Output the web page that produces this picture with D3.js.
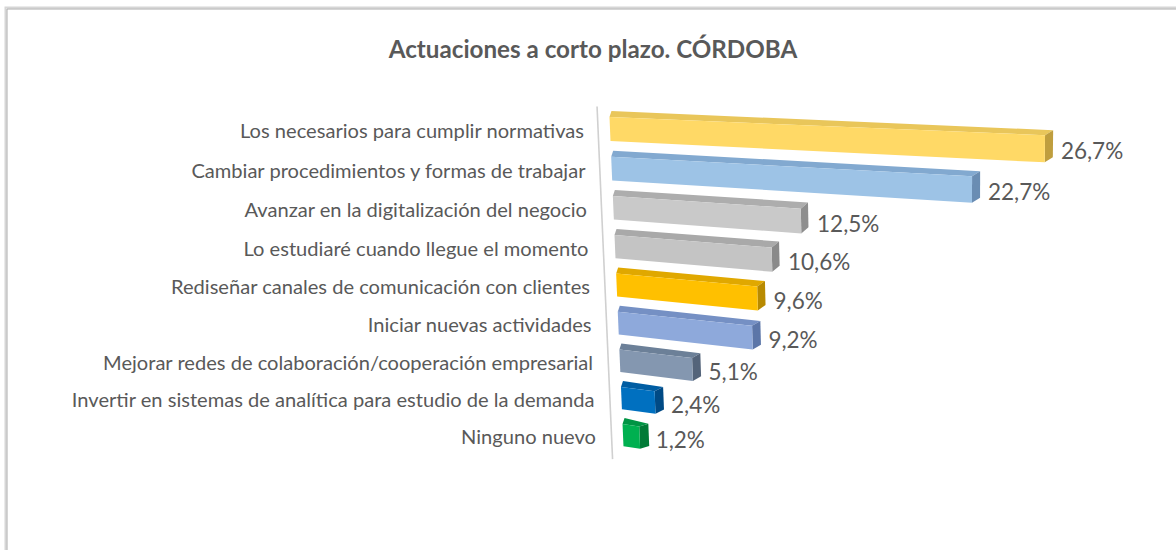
<!DOCTYPE html>
<html><head><meta charset="utf-8">
<script src="https://cdn.jsdelivr.net/npm/d3@7"></script>
<style>body{margin:0;background:#fff;} svg{display:block;}</style>
</head><body>
<svg id="chart" width="1176" height="550"></svg>
<script>
// ---- data ----
const chartTitle = "Actuaciones a corto plazo. CÓRDOBA";
const categories = [
  "Los necesarios para cumplir normativas",
  "Cambiar procedimientos y formas de trabajar",
  "Avanzar en la digitalización del negocio",
  "Lo estudiaré cuando llegue el momento",
  "Rediseñar canales de comunicación con clientes",
  "Iniciar nuevas actividades",
  "Mejorar redes de colaboración/cooperación empresarial",
  "Invertir en sistemas de analítica para estudio de la demanda",
  "Ninguno nuevo"
];
const values = [26.7, 22.7, 12.5, 10.6, 9.6, 9.2, 5.1, 2.4, 1.2];
const frontColors = ["#FFD966","#9DC3E6","#C9C9C9","#C4C4C4","#FFC000","#8EA9DB","#8497B0","#0070C0","#00B050"];
const topColors   = ["#E9C65A","#82A9D0","#ADADAD","#A9A9A9","#E0A800","#7590C4","#6C8098","#005DA3","#009444"];
const sideColors  = ["#BF9E3E","#6A8DB3","#8E8E8E","#8A8A8A","#B88A00","#5C76A8","#54647A","#004A85","#007A36"];

// ---- layout ----
const svg = d3.select("#chart");
const fmt = d3.formatLocale({decimal: ",", thousands: ".", grouping: [3], currency: ["", "€"]}).format(".1f");

const pxPerUnit = 14.25;
const x = d3.scaleLinear().domain([0, 30]).range([0, 30 * pxPerUnit]);
const rowStep = 39.8;
const barFrac = 0.40;
const y = d3.scaleBand().domain(categories)
  .range([-rowStep / 2, categories.length * rowStep - rowStep / 2])
  .paddingInner(barFrac).paddingOuter(barFrac / 2);

// perspective projection of the front plane (two vanishing points)
const O = [610, 129], V1 = [-2496, -12], V2 = [950, 8128];
const k1 = -0.0046 / pxPerUnit, k2 = 1 / 8000;
function project(X, Y) {
  const w = 1 + k1 * X + k2 * Y;
  return [
    (k1 * X * V1[0] + k2 * Y * V2[0] + O[0]) / w,
    (k1 * X * V1[1] + k2 * Y * V2[1] + O[1]) / w
  ];
}
// depth offsets: near-vertical at the axis end, radiating from a centre at the value end
const depthLeft = [2, -6];
const depthCentre = [507, 477], depthLen = 9.5;
function depthAt(p) {
  const dx = p[0] - depthCentre[0], dy = p[1] - depthCentre[1];
  const n = Math.hypot(dx, dy);
  return [dx / n * depthLen, dy / n * depthLen];
}
const add = (p, d) => [p[0] + d[0], p[1] + d[1]];
const poly = pts => "M" + pts.map(p => p[0].toFixed(2) + "," + p[1].toFixed(2)).join("L") + "Z";

// frame
svg.append("path").attr("d", "M5.5,550V7.5H1176").attr("fill", "none").attr("stroke", "#d6d6d6").attr("stroke-width", 2);
svg.append("path").attr("d", "M7,550V9H1176").attr("fill", "none").attr("stroke", "#ababab").attr("stroke-width", 1);

// title
svg.append("text").attr("x", 593).attr("y", 58).attr("text-anchor", "middle")
  .attr("font-family", "Lato, 'Open Sans', sans-serif").attr("font-weight", 700)
  .attr("font-size", 24.2).attr("fill", "#595959").text(chartTitle);

// axis line
const yTop = y.range()[0], yBot = y.range()[1];
const a0 = project(-12, yTop - 2), a1 = project(-12, yBot + 8);
svg.append("line").attr("x1", a0[0]).attr("y1", a0[1]).attr("x2", a1[0]).attr("y2", a1[1])
  .attr("stroke", "#d0d0d0").attr("stroke-width", 1.6);

// bars
const bars = svg.append("g");
categories.forEach((c, i) => {
  const Yt = y(c), Yb = y(c) + y.bandwidth(), Ym = Yt + y.bandwidth() / 2;
  const Xv = x(values[i]);
  const fTL = project(0, Yt), fTR = project(Xv, Yt), fBR = project(Xv, Yb), fBL = project(0, Yb);
  const dR = depthAt(project(Xv, Ym));
  const bTL = add(fTL, depthLeft), bTR = add(fTR, dR), bBR = add(fBR, dR);
  bars.append("path").attr("d", poly([fTL, fTR, bTR, bTL])).attr("fill", topColors[i]);
  bars.append("path").attr("d", poly([fTR, bTR, bBR, fBR])).attr("fill", sideColors[i]);
  bars.append("path").attr("d", poly([fTL, fTR, fBR, fBL])).attr("fill", frontColors[i]);
});

// category labels
const labelX = d3.scaleLinear().domain([0, categories.length - 1]).range([584, 596]);
svg.append("g").selectAll("text").data(categories).join("text")
  .attr("x", (d, i) => labelX(i))
  .attr("y", d => project(0, y(d) + y.bandwidth() / 2)[1] + 9)
  .attr("text-anchor", "end")
  .attr("font-family", "Lato, 'Open Sans', sans-serif").attr("font-size", 20.1)
  .attr("fill", "#595959").text(d => d);

// value labels
svg.append("g").selectAll("text").data(categories).join("text")
  .attr("x", (d, i) => project(x(values[i]), y(d) + y.bandwidth() / 2)[0] + 16)
  .attr("y", (d, i) => project(x(values[i]), y(d) + y.bandwidth() / 2)[1] + 10.5)
  .attr("font-family", "Lato, 'Open Sans', sans-serif").attr("font-size", 22.5)
  .attr("fill", "#595959").text((d, i) => fmt(values[i]) + "%");
</script>
</body></html>
